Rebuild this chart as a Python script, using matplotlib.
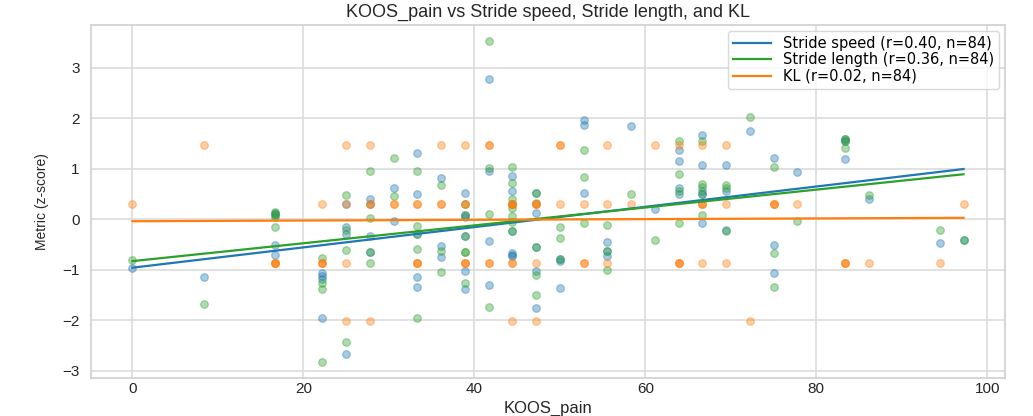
import matplotlib.pyplot as plt
import numpy as np

# KOOS_pain score per subject (x), and the three z-scored metrics (y)
koos_pain = [0, 8.33,
             16.67, 16.67, 16.67, 16.67,
             22.22, 22.22, 22.22, 22.22,
             25, 25, 25, 25,
             27.78, 27.78, 27.78, 27.78,
             30.56, 30.56,
             33.33, 33.33, 33.33, 33.33, 33.33,
             36.11, 36.11, 36.11,
             38.89, 38.89, 38.89, 38.89, 38.89, 38.89,
             41.67, 41.67, 41.67, 41.67,
             44.44, 44.44, 44.44, 44.44, 44.44, 44.44, 44.44,
             47.22, 47.22, 47.22, 47.22, 47.22,
             50, 50, 50,
             52.78, 52.78, 52.78,
             55.56, 55.56, 55.56,
             58.33, 61.11,
             63.89, 63.89, 63.89, 63.89,
             66.67, 66.67, 66.67, 66.67, 66.67,
             69.44, 69.44, 69.44,
             72.22,
             75, 75, 75,
             77.78,
             83.33, 83.33, 83.33,
             86.11, 94.44, 97.22]

stride_speed = [-0.97, -1.15,
                0.12, 0.08, -0.52, -0.71,
                -1.06, -1.13, -1.19, -1.95,
                0.31, -0.16, -0.30, -2.67,
                0.41, 0.30, -0.34, -0.64,
                0.61, -0.03,
                1.32, 0.49, -0.30, -1.15, -1.34,
                0.81, -0.53, -0.74,
                0.52, 0.09, 0.04, -0.34, -1.03, -1.39,
                2.77, 0.96, -0.43, -1.31,
                0.86, 0.56, 0.30, -0.24, -0.66, -0.70, -0.73,
                0.52, 0.13, -0.56, -1.03, -1.76,
                -0.78, -0.82, -1.36,
                1.97, 1.86, 0.51,
                -0.46, -0.63, -0.73,
                1.84, 0.21,
                1.37, 1.16, 0.61, 0.49,
                1.67, 1.07, 0.55, 0.49, -0.07,
                1.07, 0.55, -0.22,
                1.74,
                1.21, -0.51, -1.07,
                0.94,
                1.59, 1.55, 1.19,
                0.41, -0.48, -0.41]

stride_length = [-0.81, -1.68,
                 0.15, 0.10, 0.04, -0.15,
                 -0.76, -1.26, -1.39, -2.83,
                 0.47, -0.22, -0.61, -2.43,
                 0.95, 0.02, -0.64, -0.87,
                 1.21, 0.46,
                 0.95, -0.14, -0.30, -0.58, -1.95,
                 0.68, -0.63, -1.04,
                 0.31, 0.08, -0.34, -0.64, -0.64, -1.26,
                 3.53, 1.02, 0.10, -1.74,
                 1.03, 0.72, 0.41, 0.22, 0.07, -0.06, -0.24,
                 0.52, 0.33, -0.56, -1.11, -1.51,
                 -0.16, -0.38, -0.78,
                 1.37, 0.83, -0.07,
                 -0.11, -0.63, -1.01,
                 0.49, -0.42,
                 1.55, 0.89, 0.55, -0.08,
                 1.55, 0.69, 0.64, 0.50, 0.09,
                 0.67, 0.61, -0.23,
                 2.03,
                 1.04, -0.67, -1.34,
                 -0.04,
                 1.59, 1.54, 1.42,
                 0.47, -0.21, -0.41]

kl = [0.31, 1.47,
      -0.86, -0.86, -0.86, -0.86,
      0.31, -0.86, -0.86, -0.86,
      1.47, 0.31, -0.86, -2.02,
      1.47, 0.31, 0.31, -2.02,
      0.31, 0.31,
      0.31, 0.31, -0.86, -0.86, -0.86,
      1.47, 0.31, 0.31,
      1.47, 0.31, 0.31, -0.86, -0.86, -0.86,
      1.47, 1.47, -0.86, -0.86,
      0.31, 0.31, 0.31, 0.31, -0.86, -0.86, -2.02,
      0.31, 0.31, 0.31, -0.86, -2.02,
      1.47, 1.47, 0.31,
      0.31, -0.86, -0.86,
      1.47, 0.31, -0.86,
      0.31, 1.47,
      1.47, -0.86, -0.86, -0.86,
      1.47, 0.31, 0.31, 0.31, -0.86,
      1.47, 0.31, -0.86,
      -2.02,
      0.31, 0.31, 0.31,
      0.31,
      -0.86, -0.86, -0.86,
      -0.86, -0.86, 0.31]

names = ["Stride speed", "Stride length", "KL"]
r_values = [0.40, 0.36, 0.02]
n_values = [84, 84, 84]
# fitted line: value at KOOS_pain=0 and slope
fit_intercept = [-0.96, -0.83, -0.04]
fit_slope = [0.0201, 0.0177, 0.0007]

colors = ["#1f77b4", "#2ca02c", "#ff7f0e"]

plt.rcParams['font.family'] = ['Liberation Sans', 'DejaVu Sans']

fig, ax = plt.subplots(figsize=(10.33, 4.16), dpi=100)
fig.subplots_adjust(left=0.088, right=0.973, bottom=0.091, top=0.94)

x = np.array(koos_pain)
all_y = [stride_speed, stride_length, kl]
for i in range(3):
    ax.scatter(x, all_y[i], s=30, alpha=0.38, color=colors[i], edgecolors=colors[i], linewidths=0.9)
    xs = np.array([x.min(), x.max()])
    ax.plot(xs, fit_intercept[i] + fit_slope[i] * xs, color=colors[i], lw=1.6,
            label=f"{names[i]} (r={r_values[i]:.2f}, n={n_values[i]})")

ax.set_xticks([0, 20, 40, 60, 80, 100])
ax.set_yticks([-3, -2, -1, 0, 1, 2, 3])
ax.tick_params(length=0, labelsize=11, colors='#262626')
ax.tick_params(axis='x', pad=3)
ax.tick_params(axis='y', pad=8)
ax.grid(color='#dcdcdc', lw=1.2)
ax.set_axisbelow(True)
for s in ax.spines.values():
    s.set_color('#d0d0d0')
    s.set_linewidth(1.2)

ax.set_title("KOOS_pain vs Stride speed, Stride length, and KL", fontsize=13, color='#262626', pad=6)
ax.set_xlabel("KOOS_pain", fontsize=12, color='#262626', labelpad=3)
ax.set_ylabel("Metric (z-score)", fontsize=10, color='#262626', labelpad=10)

ax.legend(loc='upper right', prop={'family': 'DejaVu Sans', 'size': 10.5}, frameon=True,
          edgecolor='#d0d0d0', borderaxespad=0.4, handlelength=2.6, labelspacing=0.1,
          borderpad=0.35)

fig.savefig("out.png", dpi=100)
